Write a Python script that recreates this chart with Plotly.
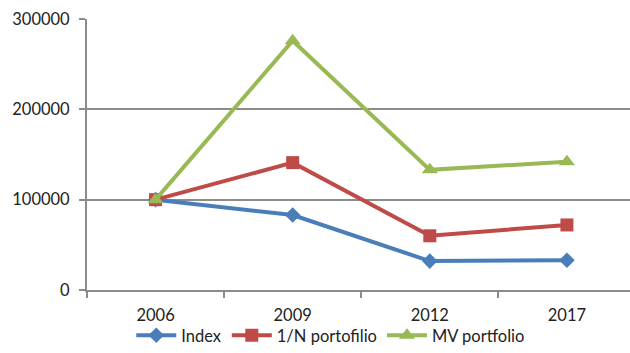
import plotly.graph_objects as go

years = ["2006", "2009", "2012", "2017"]
index_vals = [100000, 83000, 32000, 33000]
equal_weight_vals = [100000, 141000, 60000, 72000]
mv_vals = [100000, 276000, 133000, 142000]
y_ticks = [0, 100000, 200000, 300000]

series = [
    ("Index", index_vals, "#4a7ebb", "diamond", 12),
    ("1/N portofilio", equal_weight_vals, "#be4b48", "square", 13),
    ("MV portfolio", mv_vals, "#98b954", "triangle-up", 14),
]

fig = go.Figure()
for name, vals, color, symbol, size in series:
    fig.add_trace(go.Scatter(
        x=years, y=vals, name=name, mode="lines+markers",
        line=dict(color=color, width=4),
        marker=dict(symbol=symbol, size=size, color=color),
    ))

fig.update_layout(
    width=630, height=353,
    margin=dict(l=87, r=0, t=19, b=63),
    paper_bgcolor="white", plot_bgcolor="white",
    font=dict(family="Lato, Open Sans, sans-serif", size=16.5, color="#222222"),
    showlegend=True,
    legend=dict(
        orientation="h", xref="container", yref="container",
        x=0.525, xanchor="center", y=-0.028, yanchor="bottom",
        bgcolor="rgba(0,0,0,0)",
        font=dict(size=16.5), itemwidth=40, tracegroupgap=0,
    ),
    xaxis=dict(
        type="category", range=[-0.5, 3.46], automargin=False,
        showline=True, linecolor="#8c8c8c", linewidth=2,
        ticks="outside", tickson="boundaries", ticklen=6,
        tickcolor="#8c8c8c", tickwidth=2,
        showgrid=False, zeroline=False, ticklabelstandoff=9,
    ),
    yaxis=dict(
        range=[0, 300000], tickvals=y_ticks, automargin=False,
        ticktext=[str(v) for v in y_ticks],
        showline=True, linecolor="#8c8c8c", linewidth=2,
        ticks="outside", ticklen=6, tickcolor="#8c8c8c", tickwidth=2,
        showgrid=True, gridcolor="#8c8c8c", gridwidth=2,
        zeroline=False, ticklabelstandoff=6,
    ),
)

fig.write_html("out.html")
